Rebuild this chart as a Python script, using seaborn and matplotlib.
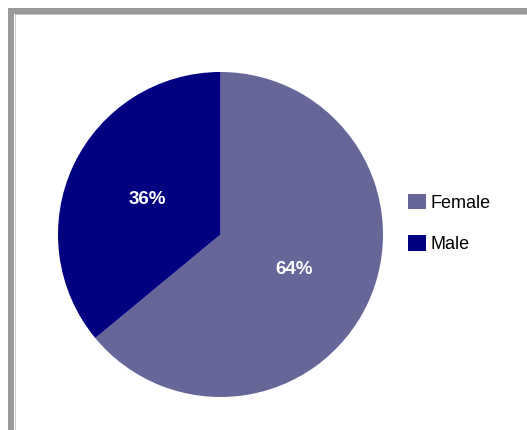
import matplotlib
matplotlib.use("Agg")
import matplotlib.pyplot as plt
from matplotlib.patches import Rectangle, Patch
import seaborn as sns

categories = ["Female", "Male"]
values = [64, 36]
colors = ["#666699", "#000080"]

sns.set_theme(style="white")
plt.rcParams["font.family"] = ["Liberation Sans", "DejaVu Sans"]

W, H = 527, 430
fig = plt.figure(figsize=(W / 100, H / 100), dpi=100)
fig.patch.set_facecolor("white")

# outer frame (cut off at right and bottom)
fig.patches.append(Rectangle((11 / W, -0.1), 1.2, 1.1 - 11.5 / H,
                             transform=fig.transFigure, fill=False,
                             edgecolor="#999999", linewidth=6 * 0.72, zorder=0))
fig.patches.append(Rectangle((14.5 / W, -0.1), 1.2, 1.1 - 14.5 / H,
                             transform=fig.transFigure, fill=False,
                             edgecolor="#c8c8c8", linewidth=1 * 0.72, zorder=0))

cx, cy, r = 220.5, 234.5, 162.5
ax = fig.add_axes([(cx - r) / W, (H - cy - r) / H, 2 * r / W, 2 * r / H])
wedges, texts, autotexts = ax.pie(
    values, colors=colors, startangle=90, counterclock=False,
    autopct="%1.0f%%", pctdistance=0.5,
    textprops=dict(color="white", fontweight="bold", fontsize=13.5),
    wedgeprops=dict(linewidth=0),
)
ax.set_xlim(-1, 1)
ax.set_ylim(-1, 1)
ax.set_aspect("auto")
ax.axis("off")

handles = [Patch(facecolor=c, edgecolor="none") for c in colors]
fig.legend(handles, categories, loc="center left",
           bbox_to_anchor=(408 / W, 1 - 223.5 / H), frameon=False,
           fontsize=13, handlelength=1.0, handleheight=0.95,
           handletextpad=0.22, labelspacing=1.3, borderpad=0, borderaxespad=0,
           labelcolor="black")

fig.savefig("out.png", dpi=100, facecolor="white")
